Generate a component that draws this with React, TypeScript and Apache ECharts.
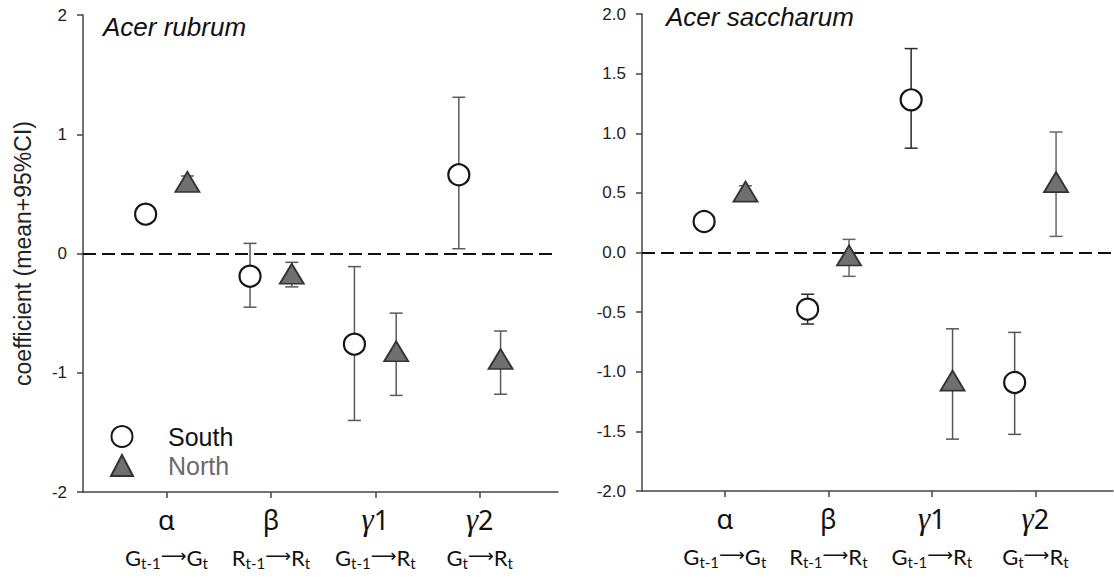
import React, { useEffect, useRef } from "react";
import * as echarts from "echarts";

const categories = ["α", "β", "γ1", "γ2"];
const transitions = [
  ["G", "t-1", "G", "t"],
  ["R", "t-1", "R", "t"],
  ["G", "t-1", "R", "t"],
  ["G", "t", "R", "t"],
];
const seriesNames = ["South", "North"];
const panelTitles = ["Acer rubrum", "Acer saccharum"];

// Acer rubrum
const rubrumSouthMean = [0.33, -0.19, -0.76, 0.66];
const rubrumSouthLow = [0.31, -0.45, -1.4, 0.04];
const rubrumSouthHigh = [0.35, 0.085, -0.11, 1.31];
const rubrumNorthMean = [0.6, -0.17, -0.82, -0.885];
const rubrumNorthLow = [0.55, -0.28, -1.19, -1.18];
const rubrumNorthHigh = [0.65, -0.074, -0.5, -0.65];

// Acer saccharum
const saccharumSouthMean = [0.26, -0.475, 1.28, -1.09];
const saccharumSouthLow = [0.23, -0.6, 0.875, -1.525];
const saccharumSouthHigh = [0.29, -0.35, 1.71, -0.67];
const saccharumNorthMean = [0.51, -0.025, -1.075, 0.59];
const saccharumNorthLow = [0.47, -0.2, -1.565, 0.135];
const saccharumNorthHigh = [0.56, 0.11, -0.64, 1.01];

const leftTicks = [-2, -1, 0, 1, 2];
const rightTicks = [-2, -1.5, -1, -0.5, 0, 0.5, 1, 1.5, 2];

// error bar colours per category
const rubrumSouthBarColors = ["#5a5a5a", "#5a5a5a", "#5a5a5a", "#5a5a5a"];
const rubrumNorthBarColors = ["#5a5a5a", "#5a5a5a", "#5a5a5a", "#5a5a5a"];
const saccharumSouthBarColors = ["#333333", "#2a2a2a", "#2a2a2a", "#555555"];
const saccharumNorthBarColors = ["#666666", "#666666", "#555555", "#666666"];

const OFFSET = 0.2;

function pts(mean: number[], dir: number) {
  return mean.map((v, i) => [i + 1 + dir * OFFSET, v]);
}
function bars(low: number[], high: number[], dir: number) {
  return low.map((l, i) => [i + 1 + dir * OFFSET, l, high[i]]);
}

function errorSeries(data: number[][], gridIndex: number, colors: string[]) {
  return {
    type: "custom",
    xAxisIndex: gridIndex,
    yAxisIndex: gridIndex,
    z: 2,
    silent: true,
    data,
    renderItem: (params: any, api: any) => {
      const x = api.value(0);
      const lo = api.coord([x, api.value(1)]);
      const hi = api.coord([x, api.value(2)]);
      const w = 6.5;
      const style = { stroke: colors[params.dataIndex], lineWidth: 1.5 };
      return {
        type: "group",
        children: [
          { type: "line", shape: { x1: lo[0], y1: lo[1], x2: hi[0], y2: hi[1] }, style },
          { type: "line", shape: { x1: lo[0] - w, y1: lo[1], x2: lo[0] + w, y2: lo[1] }, style },
          { type: "line", shape: { x1: hi[0] - w, y1: hi[1], x2: hi[0] + w, y2: hi[1] }, style },
        ],
      };
    },
  };
}

function southSeries(data: number[][], gridIndex: number, withLine: boolean) {
  const s: any = {
    name: seriesNames[0],
    type: "scatter",
    xAxisIndex: gridIndex,
    yAxisIndex: gridIndex,
    symbol: "circle",
    symbolSize: 21,
    z: 4,
    itemStyle: { color: "#ffffff", borderColor: "#161616", borderWidth: 2.2, opacity: 1 },
    data,
  };
  if (withLine) {
    s.markLine = {
      silent: true,
      symbol: ["none", "none"],
      label: { show: false },
      lineStyle: { type: [13, 6], width: 2, color: "#111111" },
      data: [{ yAxis: 0 }],
      z: 1,
    };
  }
  return s;
}

function northSeries(data: number[][], gridIndex: number) {
  return {
    name: seriesNames[1],
    type: "scatter",
    xAxisIndex: gridIndex,
    yAxisIndex: gridIndex,
    symbol: "triangle",
    symbolSize: [24, 20],
    z: 5,
    itemStyle: { color: "#707070", borderColor: "#333333", borderWidth: 1.8, opacity: 1 },
    data,
  };
}

const rich: any = {
  gr: { fontFamily: "Noto Sans", fontSize: 27, lineHeight: 54, color: "#111", verticalAlign: "middle" },
  gi: { fontFamily: "Liberation Serif", fontStyle: "italic", fontSize: 31, lineHeight: 54, color: "#111", verticalAlign: "middle" },
  m: { fontFamily: "Lato", fontSize: 22, lineHeight: 24, color: "#111", verticalAlign: "top" },
  sb: { fontFamily: "Lato", fontSize: 15, lineHeight: 14, color: "#111", verticalAlign: "bottom" },
  ar: { fontFamily: "DejaVu Sans", fontSize: 18, lineHeight: 16, color: "#111", verticalAlign: "top" },
};

function catLabel(v: number) {
  const i = Math.round(v) - 1;
  if (i < 0 || i >= categories.length) return "";
  const c = categories[i];
  const head = c.startsWith("γ") ? `{gi|γ}{gr|${c.slice(1)}}` : `{gr|${c}}`;
  const t = transitions[i];
  return `${head}\n{m|${t[0]}}{sb|${t[1]}}{ar|⟶}{m|${t[2]}}{sb|${t[3]}}`;
}

function xAxis(gridIndex: number) {
  return {
    type: "value",
    gridIndex,
    min: 0.2,
    max: 4.75,
    axisLine: { show: true, onZero: false, lineStyle: { color: "#444", width: 1.5 } },
    axisTick: { show: true, customValues: [1, 2, 3, 4], length: 6, lineStyle: { color: "#444", width: 1.5 } },
    axisLabel: { show: true, customValues: [1, 2, 3, 4], margin: 0, formatter: catLabel, rich },
    splitLine: { show: false },
  };
}

function yAxis(gridIndex: number, ticks: number[], decimals: number, name: string) {
  return {
    type: "value",
    gridIndex,
    min: ticks[0],
    max: ticks[ticks.length - 1],
    interval: ticks[1] - ticks[0],
    name,
    nameLocation: "middle",
    nameGap: 49,
    nameTextStyle: { fontFamily: "Liberation Sans", fontSize: 23, color: "#222" },
    axisLine: { show: true, onZero: false, lineStyle: { color: "#444", width: 1.5 } },
    axisTick: { show: true, length: 6, lineStyle: { color: "#444", width: 1.5 } },
    axisLabel: {
      margin: 16,
      fontFamily: "Liberation Sans",
      fontSize: 17,
      color: "#222",
      formatter: (v: number) => v.toFixed(decimals),
    },
    splitLine: { show: false },
  };
}

const titleStyle = {
  fontFamily: "Liberation Sans",
  fontStyle: "italic",
  fontWeight: "normal",
  fontSize: 26,
  color: "#111",
};

export default function App() {
  const ref = useRef<HTMLDivElement>(null);
  useEffect(() => {
    if (!ref.current) return;
    const chart = echarts.init(ref.current, undefined, { renderer: "svg" });
    chart.setOption({
      animation: false,
      backgroundColor: "#ffffff",
      title: [
        { text: panelTitles[0], left: 103, top: 14, padding: 0, textStyle: titleStyle },
        { text: panelTitles[1], left: 666, top: 4, padding: 0, textStyle: titleStyle },
      ],
      legend: {
        orient: "vertical",
        left: 110,
        top: 424,
        padding: 0,
        itemWidth: 22,
        itemHeight: 21,
        itemGap: 4,
        selectedMode: false,
        textStyle: { fontFamily: "Liberation Sans", fontSize: 25, color: "#111", padding: [0, 0, 0, 30] },
        data: [
          { name: seriesNames[0], textStyle: { color: "#111" } },
          { name: seriesNames[1], textStyle: { color: "#6a6a6a" } },
        ],
      },
      grid: [
        { left: 83, right: 556, top: 15, bottom: 90 },
        { left: 642, right: 1, top: 14, bottom: 91 },
      ],
      xAxis: [xAxis(0), xAxis(1)],
      yAxis: [
        yAxis(0, leftTicks, 0, "coefficient (mean+95%CI)"),
        yAxis(1, rightTicks, 1, ""),
      ],
      series: [
        errorSeries(bars(rubrumSouthLow, rubrumSouthHigh, -1), 0, rubrumSouthBarColors),
        errorSeries(bars(rubrumNorthLow, rubrumNorthHigh, 1), 0, rubrumNorthBarColors),
        southSeries(pts(rubrumSouthMean, -1), 0, true),
        northSeries(pts(rubrumNorthMean, 1), 0),
        errorSeries(bars(saccharumSouthLow, saccharumSouthHigh, -1), 1, saccharumSouthBarColors),
        errorSeries(bars(saccharumNorthLow, saccharumNorthHigh, 1), 1, saccharumNorthBarColors),
        southSeries(pts(saccharumSouthMean, -1), 1, true),
        northSeries(pts(saccharumNorthMean, 1), 1),
      ],
    });
    return () => chart.dispose();
  }, []);
  return (
    <div
      ref={ref}
      style={{ position: "absolute", left: 0, top: 0, width: 1114, height: 582 }}
    />
  );
}
